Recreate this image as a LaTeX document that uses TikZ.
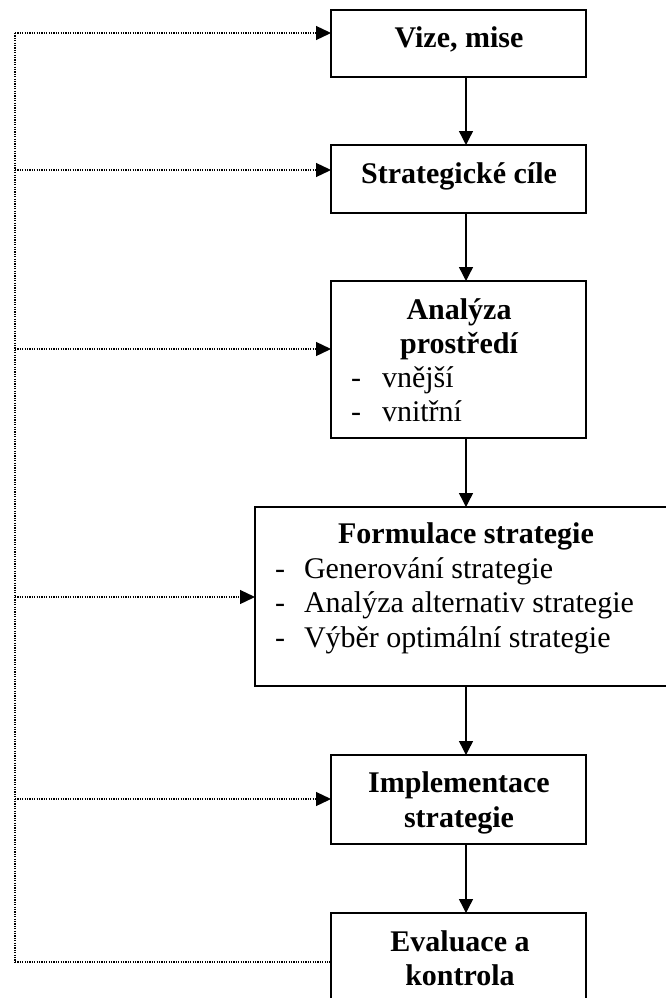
\documentclass[tikz,border=0pt]{standalone}
\usepackage{fontspec}
\setmainfont{Liberation Serif}
\usetikzlibrary{arrows.meta}
\begin{document}
\begin{tikzpicture}[x=1pt,y=-1pt,
  font=\fontsize{30}{34.5}\selectfont,
  box/.style={draw,line width=1.4pt,inner sep=0pt,outer sep=0pt,anchor=north west},
  txt/.style={inner sep=0pt,outer sep=0pt},
  flow/.style={line width=1.4pt,-{Triangle[width=14pt,length=14pt]}},
  fb/.style={line width=1.3pt,dash pattern=on 1.2pt off 1.2pt},
  fbarrow/.style={fb,-{Triangle[width=14pt,length=15pt]}}]
% page
\fill[white] (0,0) rectangle (665,998);
\useasboundingbox (0,0) rectangle (665,998);

% boxes of the strategic process
\node[box,minimum width=255pt,minimum height=67pt]  (v) at (331,10)  {};
\node[box,minimum width=255pt,minimum height=68pt]  (s) at (331,145) {};
\node[box,minimum width=255pt,minimum height=157pt] (a) at (331,281) {};
\node[box,minimum width=422pt,minimum height=179pt] (f) at (255,507) {};
\node[box,minimum width=255pt,minimum height=89pt]  (i) at (331,755) {};
\node[box,minimum width=255pt,minimum height=100pt] (e) at (331,913) {};

% texts
\node[txt,anchor=base] (tv) at (459,48) {\bfseries Vize, mise};
\node[txt,anchor=base] (ts) at (459,183) {\bfseries Strategické cíle};
\node[txt,anchor=base] (ta1) at (459,319) {\bfseries Analýza};
\node[txt,anchor=base] (ta2) at (459,353) {\bfseries prostředí};
\node[txt,anchor=base west] (da1) at (351,387) {-};
\node[txt,anchor=base west] (la1) at (382,387) {vnější};
\node[txt,anchor=base west] (da2) at (351,421) {-};
\node[txt,anchor=base west] (la2) at (382,421) {vnitřní};
\node[txt,anchor=base] (tf) at (466,543) {\bfseries Formulace strategie};
\node[txt,anchor=base west] (df1) at (275,578) {-};
\node[txt,anchor=base west] (lf1) at (304,578) {Generování strategie};
\node[txt,anchor=base west] (df2) at (275,612) {-};
\node[txt,anchor=base west] (lf2) at (304,612) {Analýza alternativ strategie};
\node[txt,anchor=base west] (df3) at (275,647) {-};
\node[txt,anchor=base west] (lf3) at (304,647) {Výběr optimální strategie};
\node[txt,anchor=base] (ti1) at (459,792) {\bfseries Implementace};
\node[txt,anchor=base] (ti2) at (459,827) {\bfseries strategie};
\node[txt,anchor=base] (te1) at (460,951) {\bfseries Evaluace a};
\node[txt,anchor=base] (te2) at (460,985) {\bfseries kontrola};

% main flow
\coordinate (ax) at (466,0);
\draw[flow] (v.south -| ax) -- (s.north -| ax);
\draw[flow] (s.south -| ax) -- (a.north -| ax);
\draw[flow] (a.south -| ax) -- (f.north -| ax);
\draw[flow] (f.south -| ax) -- (i.north -| ax);
\draw[flow] (i.south -| ax) -- (e.north -| ax);

% feedback lines
\coordinate (d1) at (15,33);
\coordinate (d2) at (15,170);
\coordinate (d3) at (15,349);
\coordinate (d4) at (15,597);
\coordinate (d5) at (15,799);
\coordinate (d6) at (15,962);
\draw[fb] (d1) -- (d6);
\draw[fbarrow] (d1) -- (d1 -| v.west);
\draw[fbarrow] (d2) -- (d2 -| s.west);
\draw[fbarrow] (d3) -- (d3 -| a.west);
\draw[fbarrow] (d4) -- (d4 -| f.west);
\draw[fbarrow] (d5) -- (d5 -| i.west);
\draw[fb] (d6) -- (d6 -| e.west);
\end{tikzpicture}
\end{document}
